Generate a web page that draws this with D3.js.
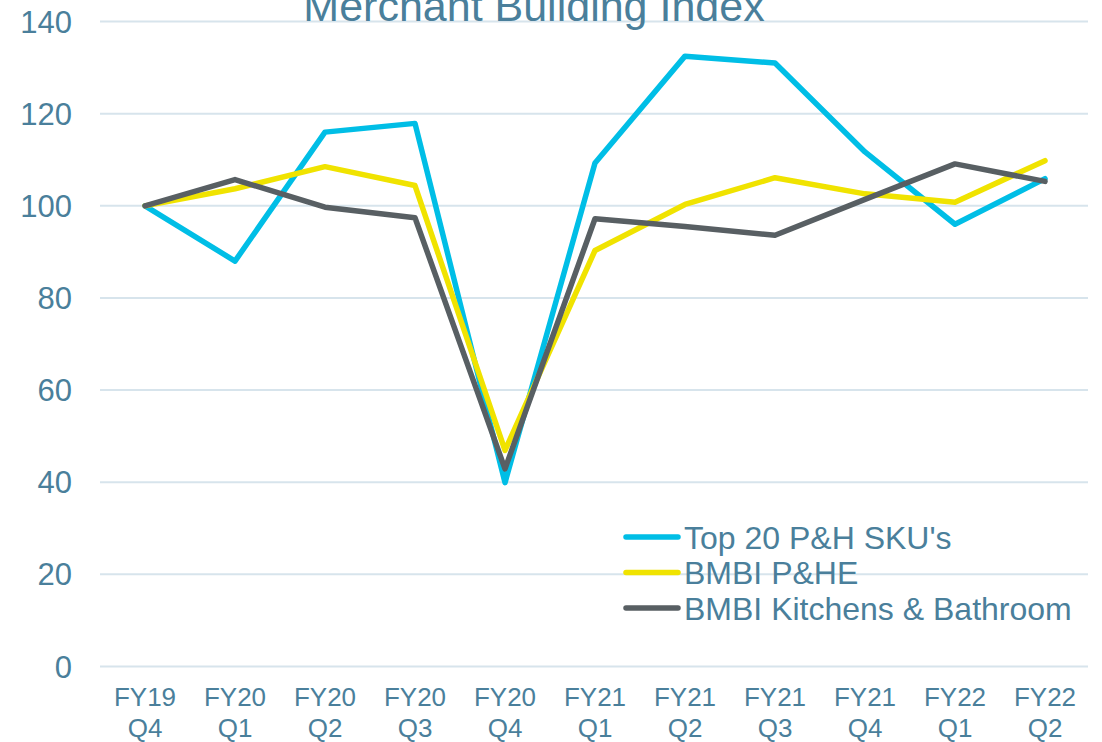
<!DOCTYPE html>
<html>
<head>
<meta charset="utf-8">
<script src="https://cdn.jsdelivr.net/npm/d3@7"></script>
<style>
    body { margin: 0; background: #fff; }
    text { font-family: "Liberation Sans", Arial, sans-serif; fill: #4A7F9B; }
</style>
</head>
<body>
<svg id="chart" width="1102" height="742"></svg>
<script>
var CATEGORIES = ["FY19 Q4", "FY20 Q1", "FY20 Q2", "FY20 Q3", "FY20 Q4", "FY21 Q1", "FY21 Q2", "FY21 Q3", "FY21 Q4", "FY22 Q1", "FY22 Q2"];

var SERIES_NAMES = ["Top 20 P&H SKU's", "BMBI P&HE", "BMBI Kitchens & Bathroom"];

var TOP20_VALUES = [100, 88.0, 116.0, 117.9, 39.9, 109.3, 132.5, 131.0, 111.7, 96.0, 105.9];
var PHE_VALUES = [100, 103.7, 108.5, 104.4, 46.9, 90.3, 100.3, 106.1, 102.6, 100.8, 109.8];
var KB_VALUES = [100, 105.7, 99.7, 97.4, 42.9, 97.2, 95.5, 93.6, 101.4, 109.1, 105.3];

var Y_TICKS = [0, 20, 40, 60, 80, 100, 120, 140];

var COLORS = ["#00BEE6", "#F0E300", "#585F63"];

var svg = d3.select("#chart");
var margin = {top: 21.6, right: 12, bottom: 75.6, left: 100};
var width = 1102 - margin.left - margin.right;
var height = 742 - margin.top - margin.bottom;

var x = d3.scalePoint().domain(CATEGORIES).range([45, 945]);
var y = d3.scaleLinear().domain([0, 140]).range([height, 0]);

var g = svg.append("g").attr("transform", "translate(" + margin.left + "," + margin.top + ")");

/* gridlines */
g.selectAll(".grid").data(Y_TICKS).enter()
    .append("line")
    .attr("x1", 0)
    .attr("x2", 988)
    .attr("y1", function(d){ return y(d); })
    .attr("y2", function(d){ return y(d); })
    .attr("stroke", "#D7E4EC")
    .attr("stroke-width", 2);

/* y tick labels */
g.selectAll(".ytick").data(Y_TICKS).enter()
    .append("text")
    .attr("x", -28)
    .attr("y", function(d){ return y(d); })
    .attr("dy", "0.36em")
    .attr("text-anchor", "end")
    .style("font-size", "31px")
    .text(function(d){ return d; });

/* x tick labels, two lines each */
var xLabels = g.selectAll(".xtick").data(CATEGORIES).enter()
    .append("text")
    .attr("text-anchor", "middle")
    .style("font-size", "26px");
xLabels.append("tspan")
    .attr("x", function(d){ return x(d); })
    .attr("y", height + 40)
    .text(function(d){ return d.split(" ")[0]; });
xLabels.append("tspan")
    .attr("x", function(d){ return x(d); })
    .attr("y", height + 71)
    .text(function(d){ return d.split(" ")[1]; });

/* lines */
var seriesValues = [TOP20_VALUES, PHE_VALUES, KB_VALUES];
var line = d3.line()
    .x(function(d, i){ return x(CATEGORIES[i]); })
    .y(function(d){ return y(d); });

seriesValues.forEach(function(values, i){
    g.append("path")
        .attr("d", line(values))
        .attr("fill", "none")
        .attr("stroke", COLORS[i])
        .attr("stroke-width", 5.5)
        .attr("stroke-linejoin", "round")
        .attr("stroke-linecap", "round");
});

/* legend */
var legend = svg.append("g").attr("transform", "translate(626,537)");
SERIES_NAMES.forEach(function(name, i){
    var offset = i * 35.5;
    legend.append("line")
        .attr("x1", 0)
        .attr("x2", 52)
        .attr("y1", offset)
        .attr("y2", offset)
        .attr("stroke", COLORS[i])
        .attr("stroke-width", 5.5)
        .attr("stroke-linecap", "round");
    legend.append("text")
        .attr("x", 58)
        .attr("y", offset)
        .attr("dy", "0.36em")
        .style("font-size", "32px")
        .text(name);
});

/* title, cut off at the top like the original */
svg.append("text")
    .attr("x", 534)
    .attr("y", 21)
    .attr("text-anchor", "middle")
    .style("font-size", "43px")
    .text("Merchant Building Index");
</script>
</body>
</html>
